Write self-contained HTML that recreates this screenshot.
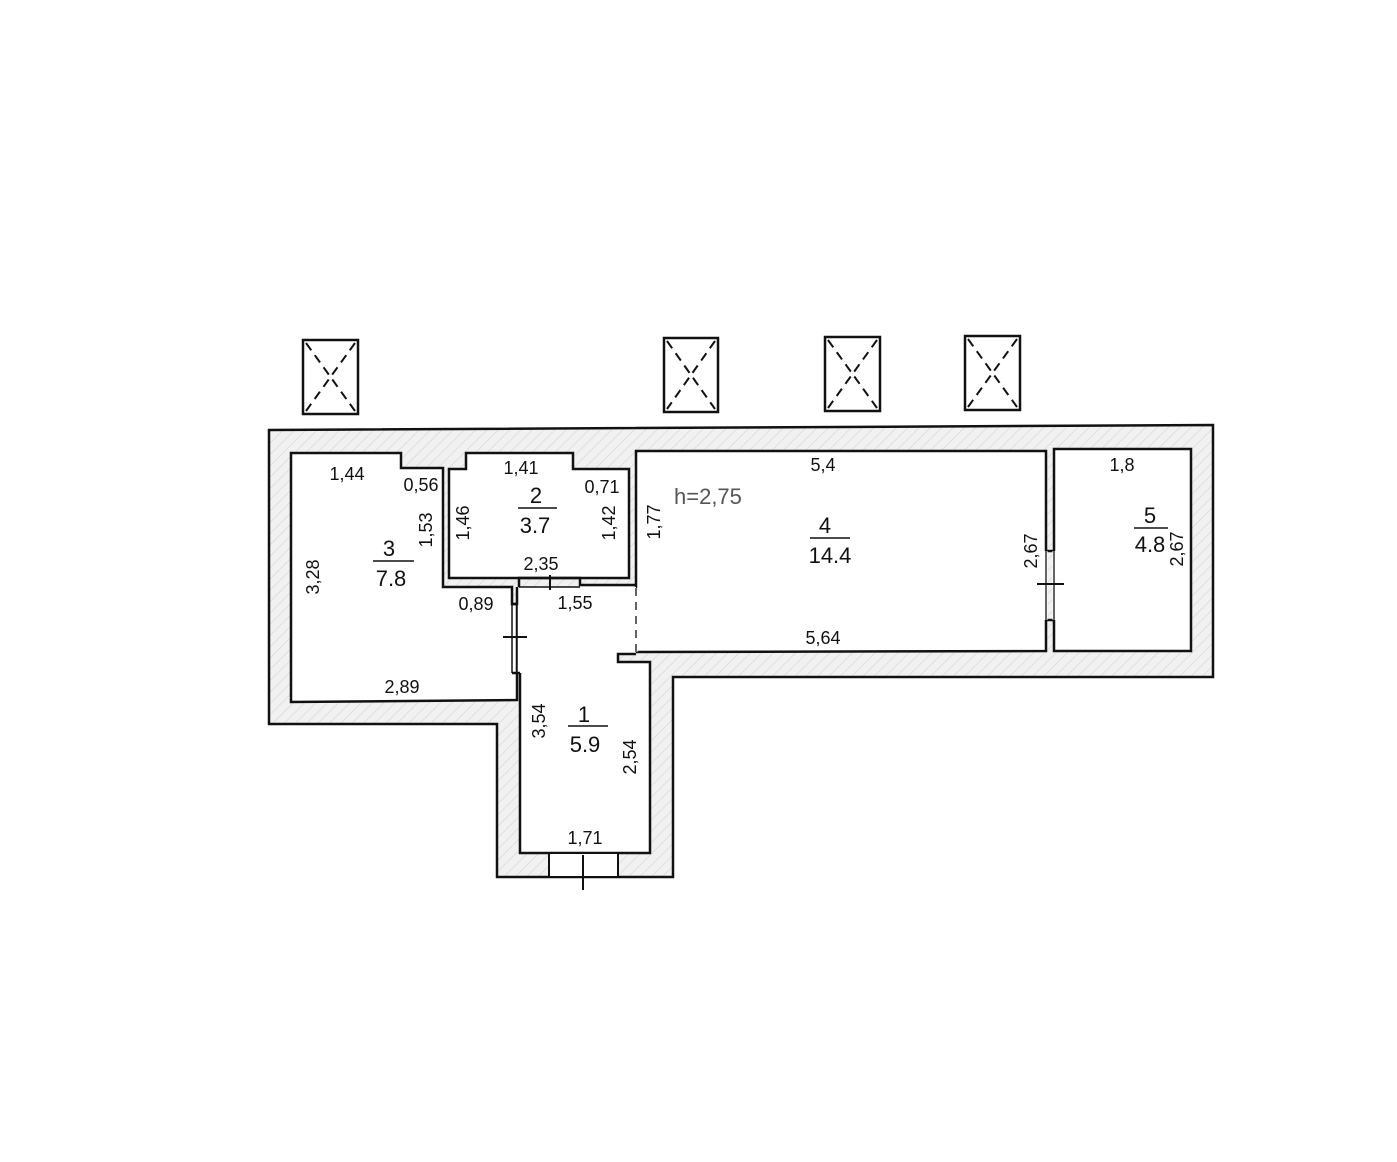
<!DOCTYPE html>
<html><head><meta charset="utf-8"><style>
html,body{margin:0;padding:0;background:#fff;}
svg{display:block}
text{font-family:"Liberation Sans",sans-serif;font-size:18px;fill:#111}
.b{font-size:22px}
</style></head><body>
<svg width="1397" height="1162" viewBox="0 0 1397 1162" xmlns="http://www.w3.org/2000/svg">
<defs>
<pattern id="h" width="8" height="8" patternUnits="userSpaceOnUse" patternTransform="rotate(45)">
<rect width="8" height="8" fill="#f1f1f1"/><line x1="0" y1="0" x2="0" y2="8" stroke="#d4d4d4" stroke-width="1.2"/>
</pattern>
</defs>
<polygon points="269,430 1213,425 1213,677 673,677 673,877 497,877 497,724 269,724" fill="url(#h)" stroke="#111" stroke-width="2.5"/>
<g fill="#fff" stroke="#111" stroke-width="2.5">
<polygon points="291,453 401,453 401,468 443,468 443,587 512,587 512,604 517,604 517,673 517,700 291,702"/>
<polygon points="449,469 466,469 466,453 573,453 573,469 629,469 629,578 449,578"/>
<polygon points="636,451 1046,451 1046,651 636,652"/>
<polygon points="1054,449 1191,449 1191,651 1054,651"/>
<polygon points="517,587 636,587 636,654 618,654 618,662 650,662 650,853 520,853 520,673 517,673" stroke="none"/>
</g>
<g fill="none" stroke="#111" stroke-width="2.5">
<polyline points="520,673 520,853 650,853 650,662 618,662 618,654 636,654"/>
<polyline points="512,604 517,604 517,587"/>
<line x1="517" y1="604" x2="517" y2="673" stroke-width="1.5"/>
<line x1="512" y1="604" x2="512" y2="673" stroke-width="1.5"/>
<polyline points="512,673 517,673 520,673"/>
<polyline points="519,587 519,578 580,578 580,585 629,585 636,585"/>
<line x1="519" y1="587" x2="580" y2="587" stroke-width="1.5"/>
<line x1="1046" y1="551" x2="1054" y2="551"/>
<line x1="1046" y1="620" x2="1054" y2="620"/>
<line x1="1046" y1="551" x2="1046" y2="620" stroke="#fff" stroke-width="3"/>
<line x1="1054" y1="551" x2="1054" y2="620" stroke="#fff" stroke-width="3"/>
<line x1="1046" y1="551" x2="1046" y2="620" stroke-width="1.3"/>
<line x1="1054" y1="551" x2="1054" y2="620" stroke-width="1.3"/>
<line x1="636" y1="588" x2="636" y2="652" stroke="#fff" stroke-width="3"/>
<line x1="636" y1="588" x2="636" y2="652" stroke-width="1.3" stroke-dasharray="8,6"/>
<rect x="549" y="853" width="69" height="24" fill="#fff" stroke-width="2"/>
<line x1="583" y1="855" x2="583" y2="890" stroke-width="2"/>
<line x1="503" y1="637" x2="527" y2="637" stroke-width="2"/>
<line x1="550" y1="575" x2="550" y2="590" stroke-width="2"/>
<line x1="1037" y1="584" x2="1064" y2="584" stroke-width="2"/>
<line x1="373" y1="561" x2="414" y2="561" stroke-width="1.5"/>
<line x1="518" y1="508" x2="557" y2="508" stroke-width="1.5"/>
<line x1="810" y1="538" x2="850" y2="538" stroke-width="1.5"/>
<line x1="1134" y1="528" x2="1168" y2="528" stroke-width="1.5"/>
<line x1="568" y1="726" x2="608" y2="726" stroke-width="1.5"/>
</g>
<g fill="none" stroke="#111" stroke-width="2.5">
<rect x="303" y="340" width="55" height="74"/><rect x="664" y="338" width="54" height="74"/>
<rect x="825" y="337" width="55" height="74"/><rect x="965" y="336" width="55" height="74"/>
</g>
<g stroke="#111" stroke-width="2" stroke-dasharray="9,6">
<line x1="306" y1="343" x2="355" y2="411"/><line x1="355" y1="343" x2="306" y2="411"/>
<line x1="667" y1="341" x2="715" y2="409"/><line x1="715" y1="341" x2="667" y2="409"/>
<line x1="828" y1="340" x2="877" y2="408"/><line x1="877" y1="340" x2="828" y2="408"/>
<line x1="968" y1="339" x2="1017" y2="407"/><line x1="1017" y1="339" x2="968" y2="407"/>
</g>
<text x="347" y="480" text-anchor="middle">1,44</text>
<text x="421" y="491" text-anchor="middle">0,56</text>
<text x="521" y="474" text-anchor="middle">1,41</text>
<text x="602" y="493" text-anchor="middle">0,71</text>
<text x="541" y="570" text-anchor="middle">2,35</text>
<text x="476" y="610" text-anchor="middle">0,89</text>
<text x="575" y="609" text-anchor="middle">1,55</text>
<text x="402" y="693" text-anchor="middle">2,89</text>
<text x="585" y="844" text-anchor="middle">1,71</text>
<text x="823" y="471" text-anchor="middle">5,4</text>
<text x="823" y="644" text-anchor="middle">5,64</text>
<text x="1122" y="471" text-anchor="middle">1,8</text>
<text x="674" y="504" style="font-size:22px;fill:#555">h=2,75</text>
<g text-anchor="middle">
<text transform="translate(319,577) rotate(-90)">3,28</text>
<text transform="translate(432,530) rotate(-90)">1,53</text>
<text transform="translate(469,523) rotate(-90)">1,46</text>
<text transform="translate(615,523) rotate(-90)">1,42</text>
<text transform="translate(660,522) rotate(-90)">1,77</text>
<text transform="translate(1037,551) rotate(-90)">2,67</text>
<text transform="translate(1183,549) rotate(-90)">2,67</text>
<text transform="translate(545,721) rotate(-90)">3,54</text>
<text transform="translate(636,757) rotate(-90)">2,54</text>
</g>
<g text-anchor="middle">
<text class="b" x="389" y="556">3</text><text class="b" x="391" y="586">7.8</text>
<text class="b" x="536" y="503">2</text><text class="b" x="535" y="533">3.7</text>
<text class="b" x="825" y="533">4</text><text class="b" x="830" y="563">14.4</text>
<text class="b" x="1150" y="523">5</text><text class="b" x="1150" y="552">4.8</text>
<text class="b" x="584" y="722">1</text><text class="b" x="585" y="752">5.9</text>
</g>
</svg>
</body></html>
